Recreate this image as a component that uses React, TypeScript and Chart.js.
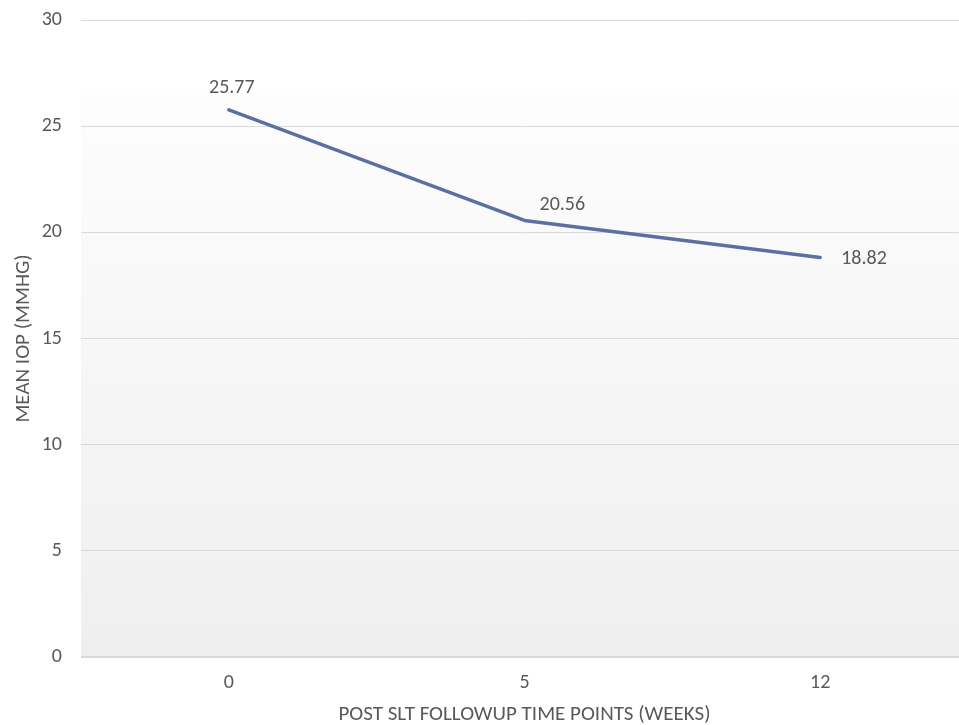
import React, { useEffect, useRef } from "react";
import { Chart, registerables } from "chart.js";

Chart.register(...registerables);

const categories: string[] = ["0", "5", "12"];
const meanIop: number[] = [25.77, 20.56, 18.82];
const yTicks: number[] = [0, 5, 10, 15, 20, 25, 30];
const xTitle = "POST SLT FOLLOWUP TIME POINTS (WEEKS)";
const yTitle = "MEAN IOP (MMHG)";

const FONT = "Carlito, Lato, 'Open Sans', sans-serif";
const TEXT = "#595959";
const GRID = "#d9d9d9";
const LINE = "#5b6fa1";

// label placement per point (Excel-style manual positions)
const LABEL_PLACE = [
  { dx: 3, dy: -22, align: "center" as CanvasTextAlign },
  { dx: 15, dy: -15, align: "left" as CanvasTextAlign },
  { dx: 21, dy: 2, align: "left" as CanvasTextAlign },
];

const bgPlugin = {
  id: "plotBg",
  beforeDraw(chart: any) {
    const { ctx, chartArea } = chart;
    const { left, right, top, bottom } = chartArea;
    const start = top + 75;
    ctx.save();
    const g = ctx.createLinearGradient(0, start, 0, bottom);
    g.addColorStop(0, "#fdfdfd");
    g.addColorStop(1, "#efefef");
    ctx.fillStyle = g;
    ctx.fillRect(left, start, right - left, bottom - start);
    ctx.restore();
  },
};

const labelPlugin = {
  id: "valueLabels",
  afterDatasetsDraw(chart: any) {
    const { ctx } = chart;
    const meta = chart.getDatasetMeta(0);
    ctx.save();
    ctx.font = `20px ${FONT}`;
    ctx.fillStyle = TEXT;
    ctx.textBaseline = "middle";
    meta.data.forEach((pt: any, i: number) => {
      const p = LABEL_PLACE[i] || { dx: 0, dy: -20, align: "center" as CanvasTextAlign };
      ctx.textAlign = p.align;
      ctx.fillText(meanIop[i].toFixed(2), pt.x + p.dx, pt.y + p.dy);
    });
    ctx.restore();
  },
};

export default function App() {
  const ref = useRef<HTMLCanvasElement | null>(null);

  useEffect(() => {
    if (!ref.current) return;
    const chart = new Chart(ref.current, {
      type: "line",
      data: {
        labels: categories,
        datasets: [
          {
            data: meanIop,
            borderColor: LINE,
            borderWidth: 3.5,
            pointRadius: 0,
            pointHoverRadius: 0,
            tension: 0,
            borderCapStyle: "round",
            borderJoinStyle: "round",
            fill: false,
          },
        ],
      },
      options: {
        responsive: false,
        animation: false,
        devicePixelRatio: 1,
        layout: { padding: { top: 20, right: 0, left: 0, bottom: 0 } },
        plugins: {
          legend: { display: false },
          tooltip: { enabled: false },
        },
        scales: {
          x: {
            type: "category",
            offset: true,
            grid: { display: false, drawTicks: false },
            border: { display: false },
            ticks: {
              color: TEXT,
              font: { family: FONT, size: 20 },
              padding: 14,
              maxRotation: 0,
            },
            title: {
              display: true,
              text: xTitle,
              color: TEXT,
              font: { family: FONT, size: 21 },
              padding: { top: 0, bottom: -2 },
            },
            afterFit(scale: any) {
              scale.height = 68;
              scale.paddingLeft = 0;
              scale.paddingRight = 0;
            },
          },
          y: {
            min: 0,
            max: 30,
            afterBuildTicks(scale: any) {
              scale.ticks = yTicks.map((v) => ({ value: v }));
            },
            grid: {
              color: GRID,
              lineWidth: (c: any) => (c.tick && c.tick.value === 0 ? 2 : 1),
              drawTicks: false,
            },
            border: { display: false },
            ticks: {
              color: TEXT,
              font: { family: FONT, size: 20 },
              padding: 19,
            },
            title: {
              display: true,
              text: yTitle,
              color: TEXT,
              font: { family: FONT, size: 21 },
              padding: { top: 11, bottom: 0 },
            },
            afterFit(scale: any) {
              scale.width = 81;
              scale.paddingTop = 0;
              scale.paddingBottom = 0;
            },
          },
        },
      },
      plugins: [bgPlugin, labelPlugin],
    });
    return () => chart.destroy();
  }, []);

  return (
    <div
      style={{
        position: "fixed",
        left: 0,
        top: 0,
        width: 959,
        height: 725,
        overflow: "hidden",
        background: "#ffffff",
      }}
    >
      <canvas ref={ref} width={968} height={725} style={{ display: "block" }} />
    </div>
  );
}
